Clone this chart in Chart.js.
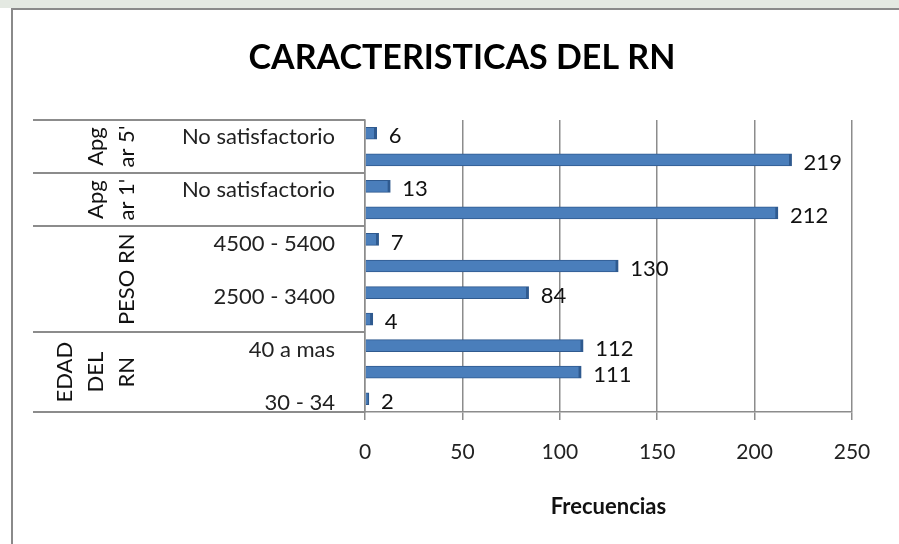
<!DOCTYPE html>
<html>
<head>
<meta charset="utf-8">
<script src="https://cdn.jsdelivr.net/npm/chart.js@4/dist/chart.umd.min.js"></script>
<style>
html,body{margin:0;padding:0;background:#fff;width:899px;height:544px;overflow:hidden;}
#bg{position:absolute;left:0;top:0;width:899px;height:8px;background:#e4e9e2;}
#frame{position:absolute;left:11px;top:8px;width:888px;height:536px;border-left:2px solid #8a8a8a;border-top:2px solid #8a8a8a;background:#fff;box-sizing:border-box;}
#wrap{position:absolute;left:13px;top:10px;width:886px;height:534px;}
</style>
</head>
<body>
<div id="bg"></div>
<div id="frame"></div>
<div id="wrap"><canvas id="c" width="886" height="534"></canvas></div>
<script>
// ---- data ----
const categories = ["No satisfactorio","Satisfactorio","No satisfactorio","Satisfactorio","4500 - 5400","3500 - 4400","2500 - 3400","1500 - 2400","40 a mas","35 - 39","30 - 34"];
const frecuencias = [6, 219, 13, 212, 7, 130, 84, 4, 112, 111, 2];
const groupNames = [["Apg","ar 5'"],["Apg","ar 1'"],["PESO RN"],["EDAD","DEL","RN"]];
const groupSizes = [2, 2, 4, 3];
const xTicks = [0, 50, 100, 150, 200, 250];
const chartTitle = "CARACTERISTICAS DEL RN";
const xTitle = "Frecuencias";

// group boundaries (category index where each group starts, plus the end)
const boundaries = [0];
groupSizes.forEach(n => boundaries.push(boundaries[boundaries.length - 1] + n));

const FONT = 'Lato';

const valueLabels = {
  id: 'valueLabels',
  afterDatasetsDraw(chart) {
    const ctx = chart.ctx;
    const meta = chart.getDatasetMeta(0);
    ctx.save();
    ctx.font = '22px ' + FONT;
    ctx.fillStyle = '#111';
    ctx.textAlign = 'left';
    ctx.textBaseline = 'middle';
    meta.data.forEach((bar, i) => {
      ctx.fillText(String(frecuencias[i]), bar.x + 12, bar.y + 3);
    });
    ctx.restore();
  }
};

const groupLabels = {
  id: 'groupLabels',
  afterDraw(chart) {
    const y = chart.scales.y;
    const ctx = chart.ctx;
    ctx.save();
    ctx.font = '22px ' + FONT;
    ctx.fillStyle = '#111';
    ctx.textAlign = 'center';
    ctx.textBaseline = 'middle';
    const lastX = y.right - 238;
    let start = 0;
    groupSizes.forEach((n, g) => {
      const cy = (y.getPixelForValue(start) + y.getPixelForValue(start + n - 1)) / 2;
      const lines = groupNames[g];
      lines.forEach((t, k) => {
        const x = lastX - (lines.length - 1 - k) * 31;
        ctx.save();
        ctx.translate(x, cy);
        ctx.rotate(-Math.PI / 2);
        ctx.fillText(t, 0, 0);
        ctx.restore();
      });
      start += n;
    });
    ctx.restore();
  }
};

new Chart(document.getElementById('c'), {
  type: 'bar',
  data: {
    labels: categories,
    datasets: [{
      data: frecuencias,
      backgroundColor: '#4a7ebb',
      borderColor: '#2f5a8f',
      borderWidth: {top: 1, right: 3, bottom: 1, left: 0},
      borderSkipped: false,
      barThickness: 12
    }]
  },
  options: {
    indexAxis: 'y',
    responsive: false,
    animation: false,
    events: [],
    layout: {padding: {left: 59, right: 47, top: 0, bottom: 0}},
    plugins: {
      legend: {display: false},
      tooltip: {enabled: false},
      title: {
        display: true,
        text: chartTitle,
        color: '#000',
        font: {family: FONT, size: 34, weight: 'bold'},
        padding: {top: 28, bottom: 41.2}
      }
    },
    scales: {
      x: {
        min: 0,
        max: 250,
        afterBuildTicks(s) { s.ticks = xTicks.map(v => ({value: v})); },
        ticks: {color: '#222', font: {family: FONT, size: 21}, padding: 20},
        grid: {color: '#8c8c8c', lineWidth: 1.5, tickLength: 8, drawTicks: true},
        border: {display: true, color: '#8c8c8c', width: 1.5},
        title: {
          display: true,
          text: xTitle,
          color: '#111',
          font: {family: FONT, size: 22, weight: 'bold'},
          padding: {top: 0, bottom: 23.8}
        },
        afterFit(s) { s.height = 132; }
      },
      y: {
        offset: true,
        ticks: {
          autoSkip: false,
          color: '#222',
          font: {family: FONT, size: 22},
          padding: -302,
          labelOffset: 4,
          callback(v, i) { return i % 2 === 0 ? categories[i] : ''; }
        },
        grid: {
          offset: true,
          drawOnChartArea: false,
          drawTicks: true,
          tickLength: 332,
          lineWidth: 2,
          color: c => (c.type !== 'tick' || boundaries.includes(c.index)) ? '#8c8c8c' : 'rgba(0,0,0,0)'
        },
        border: {display: true, color: '#8c8c8c', width: 1.5},
        afterFit(s) { s.width = 293; }
      }
    }
  },
  plugins: [valueLabels, groupLabels]
});
</script>
</body>
</html>
